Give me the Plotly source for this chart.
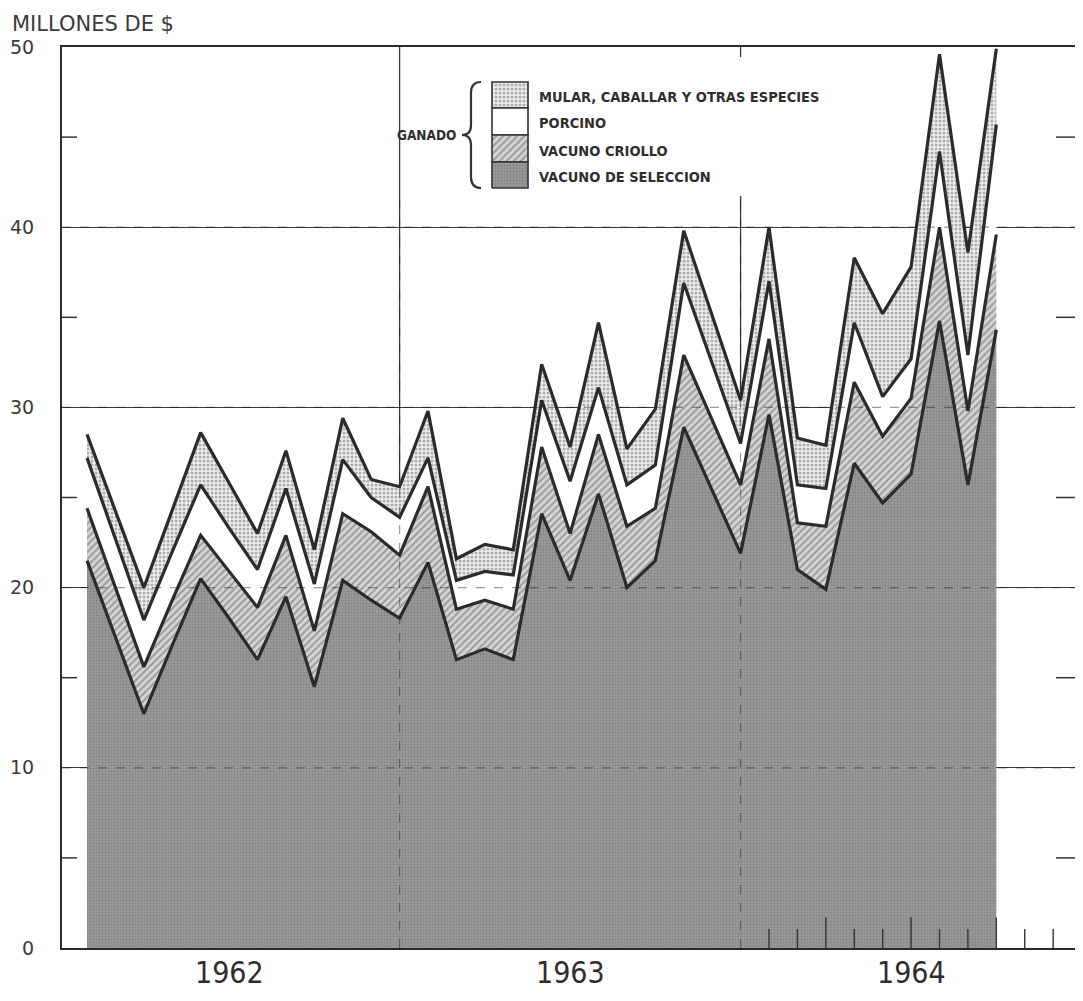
import plotly.graph_objects as go

# ---- data (millions of $), monthly positions, 1962-1964 ----
months = list(range(1, 34))  # month index from start of 1962
vacuno_seleccion = [21.5, 17.3, 13.0, 16.8, 20.5, 18.3, 16.0, 19.5, 14.5, 20.4, 19.3, 18.3,
                    21.4, 16.0, 16.6, 16.0, 24.1, 20.4, 25.2, 20.0, 21.5, 28.9, 25.4, 21.9,
                    29.6, 21.0, 19.9, 26.9, 24.7, 26.3, 34.8, 25.7, 34.3]
vacuno_criollo = [2.9, 2.7, 2.6, 2.5, 2.4, 2.6, 2.9, 3.4, 3.1, 3.7, 3.8, 3.5,
                  4.2, 2.8, 2.7, 2.8, 3.7, 2.6, 3.3, 3.4, 2.9, 4.0, 3.9, 3.8,
                  4.2, 2.6, 3.5, 4.5, 3.7, 4.2, 5.2, 4.1, 5.3]
porcino = [2.8, 2.7, 2.6, 2.7, 2.8, 2.4, 2.1, 2.6, 2.6, 3.0, 1.9, 2.1,
           1.6, 1.6, 1.6, 1.9, 2.6, 2.9, 2.6, 2.3, 2.4, 4.0, 3.2, 2.3,
           3.2, 2.1, 2.1, 3.3, 2.2, 2.2, 4.2, 3.1, 6.1]
mular_otras = [1.3, 1.6, 1.8, 2.3, 2.9, 2.5, 2.0, 2.1, 1.9, 2.3, 1.0, 1.7,
               2.6, 1.2, 1.5, 1.4, 2.0, 1.9, 3.6, 2.0, 3.1, 2.9, 2.6, 2.4,
               3.0, 2.6, 2.4, 3.6, 4.6, 5.1, 5.4, 5.7, 4.2]

series_names = ["VACUNO DE SELECCION", "VACUNO CRIOLLO", "PORCINO",
                "MULAR, CABALLAR Y OTRAS ESPECIES"]
years = ["1962", "1963", "1964"]
year_centers = [6, 18, 30]
y_ticks = [0, 10, 20, 30, 40, 50]

# ---- geometry (page has an 8px body margin) ----
W, H = 1075, 985
ML, MR, MT, MB = 54, 0, 39, 45
XR = [0.12, 36.05]
YR = [0, 50]
PLOT_L, PLOT_B = 62, 948          # page pixels of plot left / bottom
PW, PH = W - ML - MR, H - MT - MB
PXX = PW / (XR[1] - XR[0])
PXY = PH / (YR[1] - YR[0])


def dx(px):
    return XR[0] + (px - PLOT_L) / PXX


def dy(py):
    return (PLOT_B - py) / PXY


def paper_x(px):
    return (px - PLOT_L) / PW


def paper_y(py):
    return (PLOT_B - py) / PH


LINE = "#2b2b2b"
fills = [
    dict(shape=".", bgcolor="#999999", fgcolor="#6a6a6a", size=3, solidity=0.35),
    dict(shape="/", bgcolor="#d6d6d6", fgcolor="#666666", size=5, solidity=0.42),
    None,
    dict(shape=".", bgcolor="#eeeeee", fgcolor="#6e6e6e", size=4, solidity=0.45),
]
fill_colors = ["#8f8f8f", "#ababab", "#ffffff", "#d8d8d8"]

fig = go.Figure()
for name, vals, fp, fc in zip(series_names,
                              [vacuno_seleccion, vacuno_criollo, porcino, mular_otras],
                              fills, fill_colors):
    kw = dict(fillpattern=fp) if fp else dict(fillcolor=fc)
    fig.add_trace(go.Scatter(x=months, y=vals, name=name, stackgroup="g",
                             mode="lines", line=dict(color=LINE, width=3.2),
                             showlegend=False, hoverinfo="skip", **kw))

shapes = []
# vertical grid lines (year boundaries)
shapes.append(dict(type="line", xref="x", yref="y", x0=12, x1=12, y0=0, y1=50,
                   line=dict(color="#3a3a3a", width=1.3), layer="below"))
shapes.append(dict(type="line", xref="x", yref="y", x0=24, x1=24, y0=0, y1=dy(196),
                   line=dict(color="#3a3a3a", width=1.3), layer="below"))
shapes.append(dict(type="line", xref="x", yref="y", x0=24, x1=24, y0=dy(57), y1=50,
                   line=dict(color="#3a3a3a", width=1.3), layer="below"))
# faint grid showing through filled areas
for gy in [10, 20, 30, 40]:
    shapes.append(dict(type="line", xref="x", yref="y", x0=XR[0], x1=XR[1], y0=gy, y1=gy,
                       line=dict(color="rgba(30,30,30,0.45)", width=1.2, dash="dash"),
                       layer="above"))
for gx in [12, 24]:
    shapes.append(dict(type="line", xref="x", yref="y", x0=gx, x1=gx, y0=0, y1=dy(196),
                       line=dict(color="rgba(30,30,30,0.45)", width=1.2, dash="dash"),
                       layer="above"))
# half-decade ticks left and right
for ty in [5, 15, 25, 35, 45]:
    shapes.append(dict(type="line", xref="x", yref="y", x0=XR[0], x1=dx(77), y0=ty, y1=ty,
                       line=dict(color="#333", width=1.5), layer="above"))
    shapes.append(dict(type="line", xref="x", yref="y", x0=dx(1056), x1=XR[1], y0=ty, y1=ty,
                       line=dict(color="#333", width=1.5), layer="above"))
# month ticks along bottom in 1964
for m in range(25, 36):
    tall = m in (27, 30, 33)
    shapes.append(dict(type="line", xref="x", yref="y", x0=m, x1=m, y0=0,
                       y1=1.7 if tall else 1.05,
                       line=dict(color="#333", width=1.4), layer="above"))


# legend brace
def P(px, py):
    return f"{dx(px):.4f},{dy(py):.4f}"


brace = (f"M {P(481,82)} Q {P(471,82)} {P(471,93)} L {P(471,125)} "
         f"Q {P(471,135)} {P(462,135)} Q {P(471,135)} {P(471,145)} "
         f"L {P(471,177)} Q {P(471,188)} {P(481,188)}")
shapes.append(dict(type="path", xref="x", yref="y", path=brace,
                   line=dict(color="#333", width=2.2), layer="above"))

# legend swatches (drawn as filled traces so patterns can be used)
rows = [(82, 108), (108, 135), (135, 162), (162, 188)]
sw_x0, sw_x1 = 492, 528
for (r0, r1), fp, fc in zip(rows, fills[::-1], fill_colors[::-1]):
    xs = [dx(sw_x0), dx(sw_x1), dx(sw_x1), dx(sw_x0), dx(sw_x0)]
    ys = [dy(r1), dy(r1), dy(r0), dy(r0), dy(r1)]
    kw = dict(fillpattern=fp) if fp else dict(fillcolor=fc)
    fig.add_trace(go.Scatter(x=xs, y=ys, fill="toself", mode="lines",
                             line=dict(color="#333", width=1.6),
                             showlegend=False, hoverinfo="skip", **kw))

COND = "DejaVu Sans Condensed, Liberation Sans Narrow, Roboto Condensed, sans-serif"
annotations = []
LEG_FONT = dict(family=COND, size=14.5, color="#2e2e2e")
for (r0, r1), name in zip(rows, series_names[::-1]):
    annotations.append(dict(x=paper_x(537), y=paper_y((r0 + r1) / 2 + 2),
                            xref="paper", yref="paper",
                            text=f"<b>{name}</b>", showarrow=False, xanchor="left",
                            yanchor="middle", font=LEG_FONT))
annotations.append(dict(x=paper_x(458), y=paper_y(135), xref="paper", yref="paper",
                        text="<b>GANADO</b>", showarrow=False, xanchor="right",
                        yanchor="middle", font=dict(LEG_FONT, size=13.5)))
for yr, xc in zip(years, year_centers):
    annotations.append(dict(x=(xc - XR[0]) / (XR[1] - XR[0]), y=paper_y(972),
                            xref="paper", yref="paper",
                            text=yr, showarrow=False, xanchor="center", yanchor="middle",
                            font=dict(family=COND, size=30, color="#2e2e2e")))
annotations.append(dict(x=paper_x(10), y=paper_y(24), xref="paper", yref="paper",
                        text="MILLONES DE $", showarrow=False, xanchor="left",
                        yanchor="middle",
                        font=dict(family="DejaVu Sans", size=21, color="#3a3a3a")))

fig.update_layout(
    width=W, height=H,
    margin=dict(l=ML, r=MR, t=MT, b=MB, pad=0),
    paper_bgcolor="white", plot_bgcolor="white",
    shapes=shapes, annotations=annotations,
    xaxis=dict(range=XR, showgrid=False, zeroline=False, showticklabels=False,
               ticks="", showline=True, mirror=True, linecolor="#2b2b2b", linewidth=2),
    yaxis=dict(range=YR, tickvals=y_ticks, showgrid=True, gridcolor="#3a3a3a",
               gridwidth=1.3, zeroline=False, showline=True, linecolor="#2b2b2b",
               linewidth=2, ticks="", ticklabelstandoff=22,
               tickfont=dict(family="DejaVu Sans", size=19, color="#3a3a3a")),
    showlegend=False,
)

fig.write_html("out.html")
